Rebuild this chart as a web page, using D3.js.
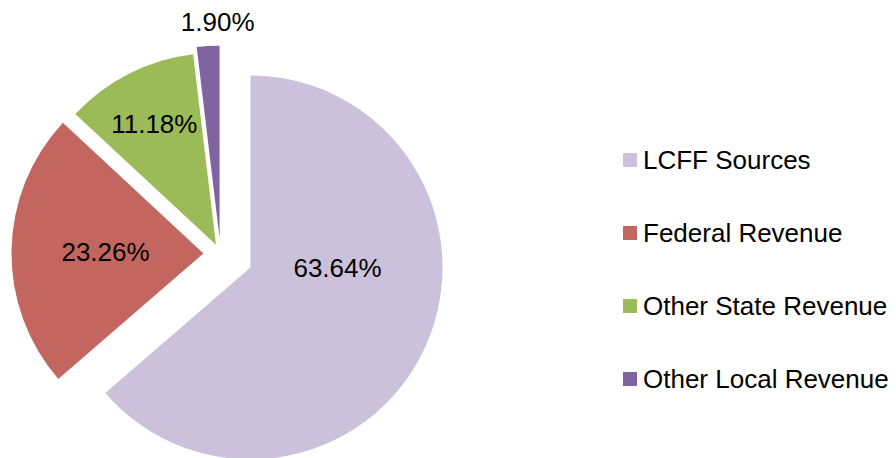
<!DOCTYPE html>
<html>
<head>
<meta charset="utf-8">
<script src="https://cdn.jsdelivr.net/npm/d3@7"></script>
<style>
  html, body { margin: 0; padding: 0; background: #fff; }
  svg { display: block; font-family: "Liberation Sans", Arial, Helvetica, sans-serif; }
</style>
</head>
<body>
<div id="chart"></div>
<script>
// revenue share by source
const categories = ["LCFF Sources", "Federal Revenue", "Other State Revenue", "Other Local Revenue"];
const values = [63.64, 23.26, 11.18, 1.90];
const labels = ["63.64%", "23.26%", "11.18%", "1.90%"];
const colors = ["#CCC1DA", "#C3665F", "#9BBB59", "#8064A2"];

const width = 896, height = 458;
const cx = 220.5, cy = 253.7, radius = 192;
// how far each slice is pulled out of the pie
const explode = [33, 17, 10, 16];
// label placement relative to the slice tip: [angle in degrees or null for mid-angle, distance]
const labelPlace = [[90, 87], [null, 98], [null, 136], [359.5, 215.5]];

const svg = d3.select("#chart").append("svg")
    .attr("width", width)
    .attr("height", height);

const pie = d3.pie().sort(null).value(d => d)(values);
const arc = d3.arc().innerRadius(0).outerRadius(radius);

const slices = svg.append("g")
  .selectAll("g")
  .data(pie)
  .join("g")
    .attr("transform", (d, i) => {
      const mid = (d.startAngle + d.endAngle) / 2;
      const x = cx + explode[i] * Math.sin(mid);
      const y = cy - explode[i] * Math.cos(mid);
      return `translate(${x},${y})`;
    });

slices.append("path")
    .attr("d", arc)
    .attr("fill", (d, i) => colors[i]);

slices.append("text")
    .attr("text-anchor", "middle")
    .attr("dy", "0.35em")
    .attr("font-size", 26)
    .attr("fill", "#000")
    .attr("transform", (d, i) => {
      const [deg, dist] = labelPlace[i];
      const a = deg === null ? (d.startAngle + d.endAngle) / 2 : deg * Math.PI / 180;
      return `translate(${dist * Math.sin(a)},${-dist * Math.cos(a)})`;
    })
    .text((d, i) => labels[i]);

// legend
const legendY = d3.scalePoint().domain(categories).range([160, 379]);

const legend = svg.append("g")
  .selectAll("g")
  .data(categories)
  .join("g")
    .attr("transform", d => `translate(623,${legendY(d)})`);

legend.append("rect")
    .attr("x", 0)
    .attr("y", -7)
    .attr("width", 14)
    .attr("height", 14)
    .attr("fill", (d, i) => colors[i]);

legend.append("text")
    .attr("x", 20)
    .attr("dy", "0.35em")
    .attr("font-size", 26)
    .attr("fill", "#000")
    .text(d => d);
</script>
</body>
</html>
